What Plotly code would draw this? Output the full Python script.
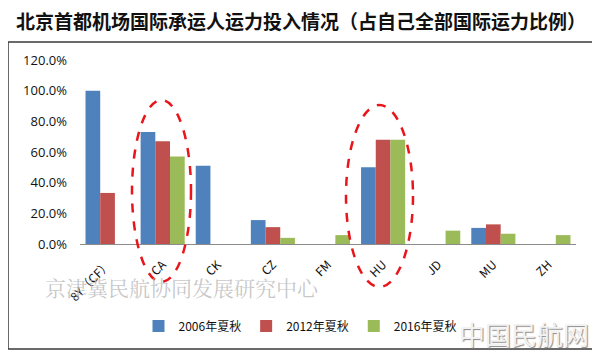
import plotly.graph_objects as go

categories = ["8Y（CF）", "CA", "CK", "CZ", "FM", "HU", "JD", "MU", "ZH"]
series_names = ["2006年夏秋", "2012年夏秋", "2016年夏秋"]
s2006 = [1.00, 0.73, 0.51, 0.156, None, 0.50, None, 0.105, None]
s2012 = [0.333, 0.67, None, 0.11, None, 0.68, None, 0.128, None]
s2016 = [None, 0.57, None, 0.04, 0.058, 0.68, 0.087, 0.067, 0.058]
colors = ["#4F81BD", "#C0504D", "#9BBB59"]
title_text = "北京首都机场国际承运人运力投入情况（占自己全部国际运力比例）"

FONT = "Noto Sans CJK SC, Noto Sans, sans-serif"

fig = go.Figure()
for name, vals, c in zip(series_names, [s2006, s2012, s2016], colors):
    fig.add_trace(go.Bar(x=categories, y=vals, name=name, marker_color=c,
                         marker_line_width=0))

OFF = 8  # page body margin offset
W, H = 600, 357
L = 80 - OFF
T = 60 - OFF
R = W - (576 - OFF)
B = H - (244 - OFF)
pw, ph = W - L - R, H - T - B

def px_x(p):
    return (p - OFF - L) / pw

def px_y(p):
    return (H - B - (p - OFF)) / ph

shapes = [
    dict(type="rect", xref="paper", yref="paper",
         x0=px_x(8), x1=px_x(593), y0=px_y(349), y1=px_y(42),
         line=dict(color="#3a3a3a", width=1.5), layer="below"),
    dict(type="circle", xref="paper", yref="paper",
         x0=px_x(132), x1=px_x(191), y0=px_y(282), y1=px_y(100),
         line=dict(color="#E8161B", width=2.5, dash="dash")),
    dict(type="circle", xref="paper", yref="paper",
         x0=px_x(346), x1=px_x(413), y0=px_y(287), y1=px_y(105),
         line=dict(color="#E8161B", width=2.5, dash="dash")),
]

annotations = [
    dict(text="京津冀民航协同发展研究中心", xref="paper", yref="paper",
         x=px_x(182), y=px_y(287), xanchor="center", yanchor="middle", showarrow=False,
         font=dict(family="Noto Serif CJK SC, Noto Sans CJK SC, serif", size=21,
                   color="rgba(185,185,185,0.8)")),
    dict(text="中国民航网", xref="paper", yref="paper",
         x=px_x(591), y=px_y(333), xanchor="right", yanchor="middle", showarrow=False,
         font=dict(family=FONT, size=26, color="#f2f2f2",
                   shadow="1px 1px 1px #8a8a8a")),
]

fig.update_layout(
    width=W, height=H,
    margin=dict(l=L, r=R, t=T, b=B, autoexpand=False),
    paper_bgcolor="white", plot_bgcolor="white",
    barmode="group", bargap=0.2, bargroupgap=0,
    title=dict(text=title_text, x=(301 - OFF) / W, xanchor="center",
               y=1 - (22 - OFF) / H, yanchor="middle",
               font=dict(family=FONT, size=19, color="#111111", weight="bold")),
    font=dict(family=FONT, color="#111111"),
    showlegend=True,
    legend=dict(orientation="h", x=px_x(300), xanchor="center", y=px_y(326), yanchor="middle",
                font=dict(family=FONT, size=12, color="#111111"),
                itemwidth=30, traceorder="normal"),
    xaxis=dict(showline=True, linecolor="#8c8c8c", linewidth=1, showgrid=False,
               ticks="", tickangle=-45, tickfont=dict(size=12, color="#111111"),
               ticklabelstandoff=8, automargin=False),
    yaxis=dict(range=[0, 1.2], dtick=0.2, tickformat=".1%", showgrid=False,
               showline=False, zeroline=False, ticks="",
               tickfont=dict(family="Open Sans, sans-serif", size=13, color="#111111"),
               ticklabelstandoff=12, automargin=False),
    shapes=shapes,
    annotations=annotations,
)

fig.write_html("out.html")
